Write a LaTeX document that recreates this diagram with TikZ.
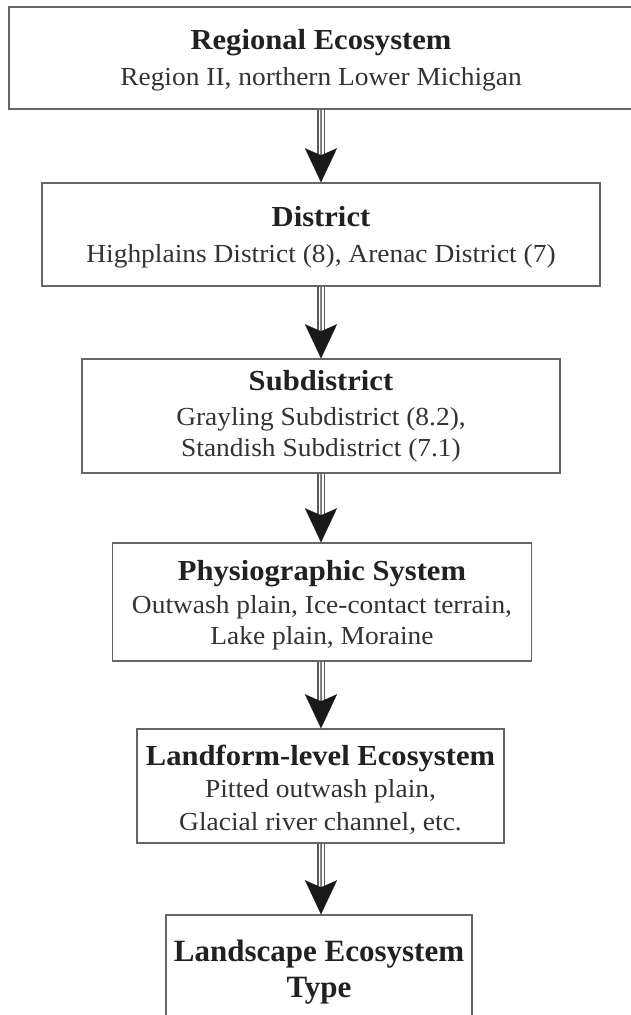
\documentclass[tikz,border=0pt]{standalone}
\usepackage{fontspec}
\setmainfont{Liberation Serif}[FakeStretch=1.055]
\newfontfamily\lastfont{Liberation Serif}
\usetikzlibrary{arrows.meta}
\definecolor{boxline}{gray}{0.4}
\definecolor{txt}{gray}{0.13}
\definecolor{subtxt}{gray}{0.2}
\tikzset{
  levelbox/.style={draw=boxline, line width=1.4pt, rectangle, align=center, inner sep=0pt,
    text=subtxt, font=\fontsize{26}{31}\selectfont},
  shaft/.style={draw=black!65, line width=7.6pt, shorten >=26pt,
    postaction={draw=white, line width=5pt, shorten >=26pt},
    postaction={draw=black!45, line width=1.3pt, shorten >=26pt}},
  headtip/.style={-{Stealth[length=34pt,width=32pt,inset=7pt]}, line width=0.01pt, draw=black!90, fill=black!90},
}
% #1: extra strut height (moves the text down by half of it)
\newcommand{\ttl}[2][0pt]{{\fontsize{29}{34}\selectfont\bfseries\color{txt}\rule{0pt}{\dimexpr 20pt+#1\relax}#2}}
\begin{document}
\begin{tikzpicture}[x=1pt,y=-1pt]
\useasboundingbox (0,0) rectangle (631,1015);
\clip (0,0) rectangle (631,1015);
\fill[white] (0,0) rectangle (631,1015);
\node[levelbox, minimum width=624pt, minimum height=102pt] (b1) at (321,58)
  {\ttl[5pt]{Regional Ecosystem}\\[5pt]Region II, northern Lower Michigan};
\node[levelbox, minimum width=558pt, minimum height=103pt] (b2) at (321,234.5)
  {\ttl[6pt]{District}\\[5pt]Highplains District (8), Arenac District (7)};
\node[levelbox, minimum width=478pt, minimum height=114pt] (b3) at (321,416)
  {\ttl[1pt]{Subdistrict}\\[4pt]Grayling Subdistrict (8.2),\\Standish Subdistrict (7.1)};
\node[levelbox, minimum width=419pt, minimum height=118pt] (b4) at (322,602)
  {\ttl[6pt]{Physiographic System}\\[2pt]Outwash plain, Ice-contact terrain,\\Lake plain, Moraine};
\node[levelbox, minimum width=367pt, minimum height=114pt] (b5) at (320.5,786)
  {\ttl[8pt]{Landform-level Ecosystem}\\[1pt]Pitted outwash plain,\\[2pt]Glacial river channel, etc.};
\node[levelbox, minimum width=306pt, minimum height=114pt, text=txt,
  font=\lastfont\bfseries\fontsize{31}{36}\selectfont] (b6) at (319,972)
  {Landscape Ecosystem\\Type};
\foreach \a/\b in {b1/b2,b2/b3,b3/b4,b4/b5,b5/b6}{
  \draw[shaft] (\a.south -| 321,0) -- (\b.north -| 321,0);
  \draw[headtip] (\a.south -| 321,0) -- (\b.north -| 321,0);
}
\end{tikzpicture}
\end{document}
